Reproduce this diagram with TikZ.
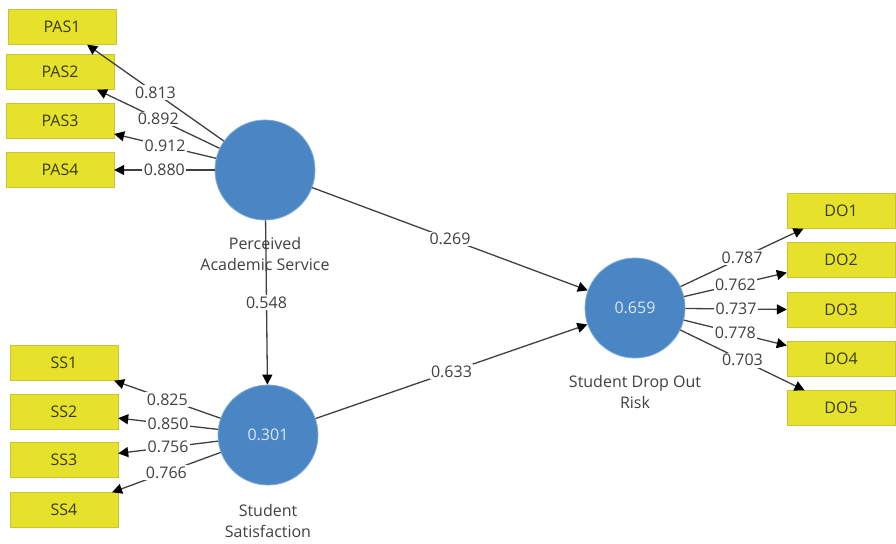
\documentclass[tikz,border=0pt]{standalone}
\usepackage{fontspec}
\setmainfont{Open Sans}
\usetikzlibrary{arrows.meta, positioning}
\definecolor{boxyellow}{HTML}{E6E22C}
\definecolor{boxedge}{HTML}{C9C435}
\definecolor{boxtext}{HTML}{3A3A12}
\definecolor{lvblue}{HTML}{4A86C4}
\definecolor{lvtext}{HTML}{DCE7F5}
\definecolor{linegray}{HTML}{404040}
\tikzset{
    indicator/.style={
        draw=boxedge,
        fill=boxyellow,
        text=boxtext,
        minimum width=108pt,
        minimum height=35pt,
        inner sep=0pt,
        font=\fontsize{16}{19}\selectfont
    },
    construct/.style={
        circle,
        fill=lvblue,
        draw=lvblue!70!white,
        line width=0.8pt,
        text=lvtext,
        minimum size=100pt,
        inner sep=0pt,
        font=\fontsize{16}{19}\selectfont
    },
    lvname/.style={align=center, inner sep=0pt, text=linegray, font=\fontsize{16}{21}\selectfont},
    path_arrow/.style={draw=linegray, line width=1.3pt, -{Triangle[length=10pt, width=10pt, black]}},
    coef/.style={fill=white, text=linegray, inner sep=1.5pt, font=\fontsize{16}{19}\selectfont}
}

\begin{document}
\begin{tikzpicture}[x=1pt, y=-1pt]
    \useasboundingbox (0, 0) rectangle (896, 543);

    % Latent variables
    \node[construct] (pas) at (265, 170) {};
    \node[construct] (ss) at (268, 435) {0.301};
    \node[construct] (dro) at (635, 308) {0.659};
    \node[lvname, below=17pt of pas] (pasname) {Perceived\\Academic Service};
    \node[lvname, below=19pt of ss] (ssname) {Student\\Satisfaction};
    \node[lvname, below=17pt of dro] (droname) {Student Drop Out\\Risk};

    % Indicators : Perceived Academic Service
    \node[indicator] (pas1) at (62, 27) {PAS1};
    \node[indicator] (pas2) at (60, 72) {PAS2};
    \node[indicator] (pas3) at (60, 121) {PAS3};
    \node[indicator] (pas4) at (60, 170) {PAS4};

    % Indicators : Student Satisfaction
    \node[indicator] (ss1) at (64, 363) {SS1};
    \node[indicator] (ss2) at (64, 412) {SS2};
    \node[indicator] (ss3) at (64, 460) {SS3};
    \node[indicator] (ss4) at (64, 510) {SS4};

    % Indicators : Student Drop Out Risk
    \node[indicator] (do1) at (841, 211) {DO1};
    \node[indicator] (do2) at (841, 260) {DO2};
    \node[indicator] (do3) at (841, 310) {DO3};
    \node[indicator] (do4) at (841, 359) {DO4};
    \node[indicator] (do5) at (841, 408) {DO5};

    % Outer loadings
    \draw[path_arrow] (pas) -- (pas1) node[coef, midway] {0.813};
    \draw[path_arrow] (pas) -- (pas2) node[coef, midway] {0.892};
    \draw[path_arrow] (pas) -- (pas3) node[coef, midway] {0.912};
    \draw[path_arrow] (pas) -- (pas4) node[coef, midway] {0.880};

    \draw[path_arrow] (ss) -- (ss1) node[coef, midway] {0.825};
    \draw[path_arrow] (ss) -- (ss2) node[coef, midway] {0.850};
    \draw[path_arrow] (ss) -- (ss3) node[coef, midway] {0.756};
    \draw[path_arrow] (ss) -- (ss4) node[coef, midway] {0.766};

    \draw[path_arrow] (dro) -- (do1) node[coef, midway] {0.787};
    \draw[path_arrow] (dro) -- (do2) node[coef, midway] {0.762};
    \draw[path_arrow] (dro) -- (do3) node[coef, midway] {0.737};
    \draw[path_arrow] (dro) -- (do4) node[coef, midway] {0.778};
    \draw[path_arrow] (dro) -- (do5) node[coef, midway] {0.703};

    % Path coefficients
    \draw[path_arrow] (pas) -- (ss) node[coef, midway] {0.548};
    \draw[path_arrow] (pas) -- (dro) node[coef, midway] {0.269};
    \draw[path_arrow] (ss) -- (dro) node[coef, midway] {0.633};
\end{tikzpicture}
\end{document}
